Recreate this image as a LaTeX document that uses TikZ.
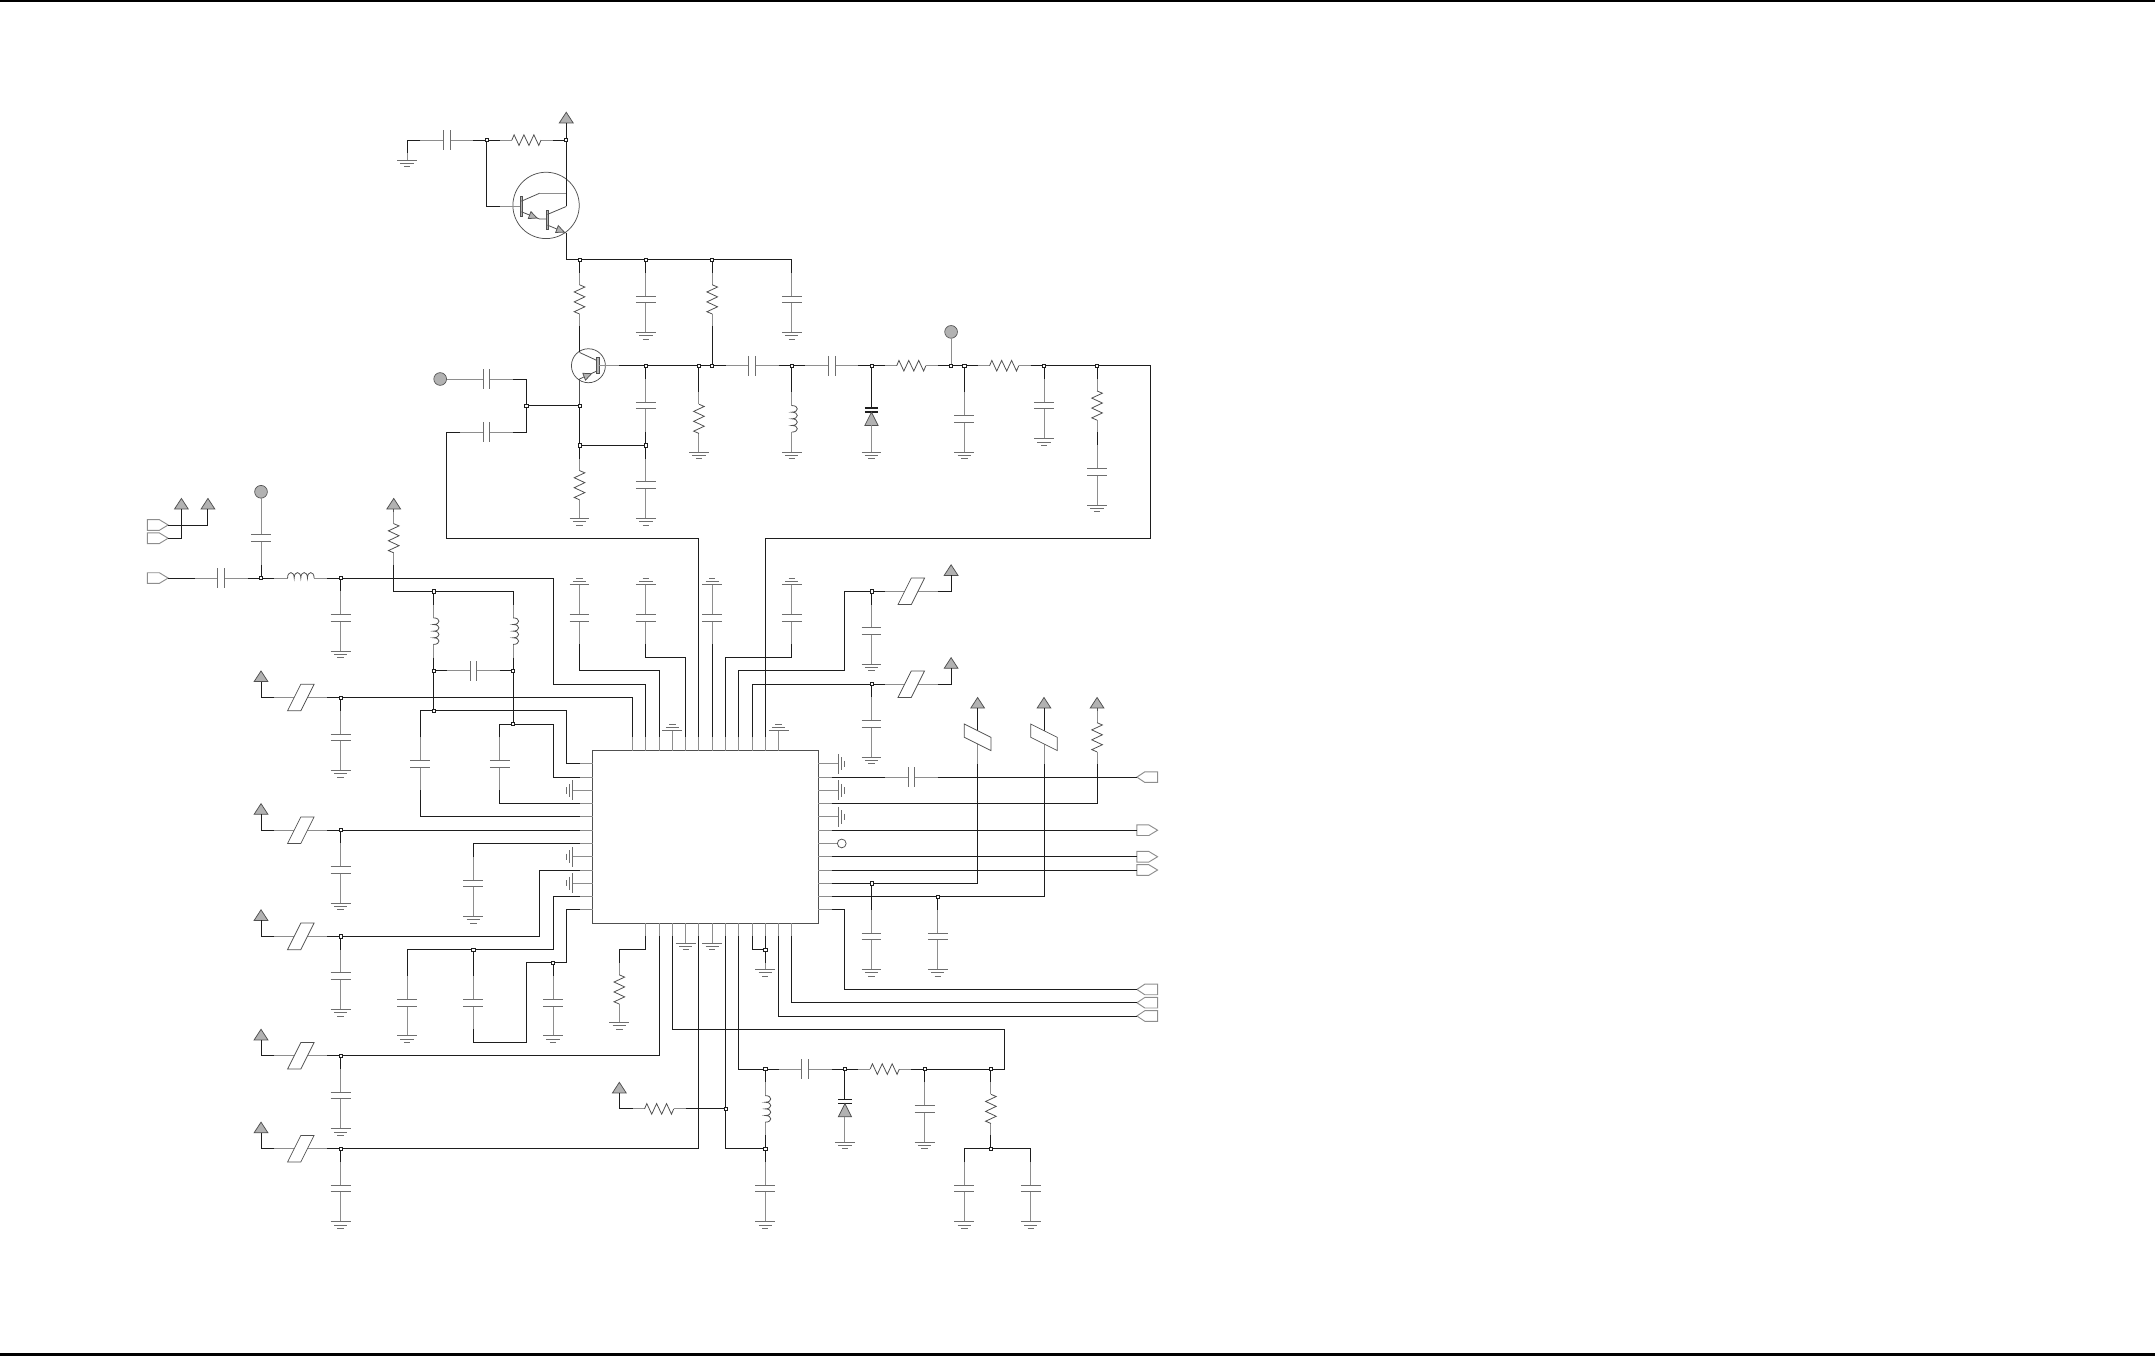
\documentclass[tikz,border=0pt]{standalone}
\pgfdeclarelayer{front}
\pgfsetlayers{main,front}
\definecolor{wirec}{HTML}{1E1E1E}
\definecolor{leadc}{HTML}{8E8E8E}
\definecolor{darkc}{HTML}{505050}
\definecolor{platec}{HTML}{6E6E6E}
\definecolor{fillc}{HTML}{B2B2B2}
\tikzset{
 wire/.style={draw=wirec,line width=1pt,line join=miter},
 comp/.style={draw=leadc,line width=1pt},
 zig/.style={draw=darkc,line width=.85pt,line join=miter},
 plate/.style={draw=platec,line width=1pt},
 junc/.style={rectangle,draw=wirec,fill=white,line width=.8pt,minimum size=3.4pt,inner sep=0pt},
 supply/.style={draw=darkc,fill=fillc,line width=.8pt,line join=miter},
 bulb/.style={circle,draw=darkc,fill=fillc,line width=.7pt,minimum size=.48cm,inner sep=0pt},
 body/.style={rectangle,draw=darkc,fill=white,line width=1pt,minimum width=8.5cm,minimum height=6.5cm,inner sep=0pt},
 ring/.style={circle,draw=darkc,line width=.8pt,inner sep=0pt},
 conn/.style={draw=leadc,fill=white,line width=1pt,line join=miter},
 slant/.style={draw=darkc,fill=white,line width=.8pt,line join=miter},
 bar/.style={draw=darkc,fill=fillc,line width=.6pt},
}
\newcommand\J[3]{\begin{pgfonlayer}{front}\node[junc] (#1) at (#2,#3) {};\end{pgfonlayer}}
% grounds: bars at y (or x), lead of half a pitch ends at the named coordinate
\newcommand\gndD[3]{\coordinate (#1) at (#2,#3-.5);\draw[comp] (#1) -- (#2,#3);
 \draw[plate] (#2-.75,#3) -- (#2+.75,#3); \draw[plate] (#2-.5,#3+.25) -- (#2+.5,#3+.25); \draw[plate] (#2-.24,#3+.5) -- (#2+.24,#3+.5);}
\newcommand\gndU[3]{\coordinate (#1) at (#2,#3+.5);\draw[comp] (#1) -- (#2,#3);
 \draw[plate] (#2-.75,#3) -- (#2+.75,#3); \draw[plate] (#2-.5,#3-.25) -- (#2+.5,#3-.25); \draw[plate] (#2-.24,#3-.5) -- (#2+.24,#3-.5);}
\newcommand\gndR[3]{\coordinate (#1) at (#2-.5,#3);\draw[comp] (#1) -- (#2,#3);
 \draw[plate] (#2,#3-.75) -- (#2,#3+.75); \draw[plate] (#2+.25,#3-.5) -- (#2+.25,#3+.5); \draw[plate] (#2+.5,#3-.24) -- (#2+.5,#3+.24);}
\newcommand\gndL[3]{\coordinate (#1) at (#2+.5,#3);\draw[comp] (#1) -- (#2,#3);
 \draw[plate] (#2,#3-.75) -- (#2,#3+.75); \draw[plate] (#2-.25,#3-.5) -- (#2-.25,#3+.5); \draw[plate] (#2-.5,#3-.24) -- (#2-.5,#3+.24);}
% capacitors
\newcommand\capH[3]{\coordinate (#1a) at (#2-2,#3);\coordinate (#1b) at (#2+2,#3);
 \draw[comp] (#1a) -- (#2-.25,#3); \draw[comp] (#1b) -- (#2+.25,#3);
 \draw[plate] (#2-.25,#3-.75) -- (#2-.25,#3+.75); \draw[plate] (#2+.25,#3-.75) -- (#2+.25,#3+.75);}
\newcommand\capV[3]{\coordinate (#1a) at (#2,#3-2);\coordinate (#1b) at (#2,#3+2);
 \draw[comp] (#1a) -- (#2,#3-.25); \draw[comp] (#1b) -- (#2,#3+.25);
 \draw[plate] (#2-.75,#3-.25) -- (#2+.75,#3-.25); \draw[plate] (#2-.75,#3+.25) -- (#2+.75,#3+.25);}
\newcommand\capG[3]{\capV{#1}{#2}{#3}\gndD{#1g}{#2}{#3+2.5}}
\newcommand\capGU[3]{\capV{#1}{#2}{#3}\gndU{#1g}{#2}{#3-2.5}}
% resistors
\newcommand\resH[3]{\coordinate (#1a) at (#2-2,#3);\coordinate (#1b) at (#2+2,#3);
 \draw[comp] (#1a) -- (#2-1.1,#3); \draw[comp] (#1b) -- (#2+1.1,#3);
 \draw[zig,shift={(#2,#3)}] (-1.1,0)--(-.93,-.4)--(-.56,.4)--(-.19,-.4)--(.19,.4)--(.56,-.4)--(.93,.4)--(1.1,0);}
\newcommand\resV[3]{\coordinate (#1a) at (#2,#3-2);\coordinate (#1b) at (#2,#3+2);
 \draw[comp] (#1a) -- (#2,#3-1.1); \draw[comp] (#1b) -- (#2,#3+1.1);
 \draw[zig,shift={(#2,#3)}] (0,-1.1)--(.4,-.93)--(-.4,-.56)--(.4,-.19)--(-.4,.19)--(.4,.56)--(-.4,.93)--(0,1.1);}
% inductors
\newcommand\indH[3]{\coordinate (#1a) at (#2-2,#3);\coordinate (#1b) at (#2+2,#3);
 \draw[comp] (#1a) -- (#2-1,#3); \draw[comp] (#1b) -- (#2+1,#3);
 \draw[zig,shift={(#2,#3)}] (-1,0) .. controls (-1,-.55) and (-.5,-.55) .. (-.5,0) .. controls (-.5,-.55) and (0,-.55) .. (0,0) .. controls (0,-.55) and (.5,-.55) .. (.5,0) .. controls (.5,-.55) and (1,-.55) .. (1,0);}
\newcommand\indV[3]{\coordinate (#1a) at (#2,#3-2);\coordinate (#1b) at (#2,#3+2);
 \draw[comp] (#1a) -- (#2,#3-1); \draw[comp] (#1b) -- (#2,#3+1);
 \draw[zig,shift={(#2,#3)}] (0,-1) .. controls (.55,-1) and (.55,-.5) .. (0,-.5) .. controls (.55,-.5) and (.55,0) .. (0,0) .. controls (.55,0) and (.55,.5) .. (0,.5) .. controls (.55,.5) and (.55,1) .. (0,1);}
% supply triangle: apex y, named coordinate at the middle of its base
\newcommand\vcc[3]{\coordinate (#1) at (#2,#3+.8);\filldraw[supply] (#2,#3) -- (#2+.52,#3+.8) -- (#2-.52,#3+.8) -- cycle;}
% ferrite blocks
\newcommand\slantH[3]{\coordinate (#1a) at (#2-2,#3);\coordinate (#1b) at (#2+2,#3);
 \draw[comp] (#1a) -- (#1b);
 \begin{pgfonlayer}{front}\filldraw[slant,shift={(#2,#3)}] (-1,1) -- (0,1) -- (1,-1) -- (0,-1) -- cycle;\end{pgfonlayer}}
\newcommand\slantV[3]{\coordinate (#1a) at (#2,#3-1);\coordinate (#1b) at (#2,#3+2);
 \draw[comp] (#2,#3) -- (#1b); \draw[wire] (#1a) -- (#2,#3);
 \begin{pgfonlayer}{front}\filldraw[slant,shift={(#2,#3)}] (-1,-1) -- (1,0) -- (1,1) -- (-1,0) -- cycle;\end{pgfonlayer}}
% port arrows
\newcommand\conR[3]{\coordinate (#1) at (#2,#3);\coordinate (#1t) at (#2+1.56,#3);
 \filldraw[conn] (#2,#3-.4) -- (#2+.9,#3-.4) -- (#1t) -- (#2+.9,#3+.4) -- (#2,#3+.4) -- cycle;}
\newcommand\conL[3]{\coordinate (#1) at (#2,#3);
 \filldraw[conn] (#1) -- (#2+.6,#3-.4) -- (#2+1.56,#3-.4) -- (#2+1.56,#3+.4) -- (#2+.6,#3+.4) -- cycle;}
% diode: bars at y, y+.3, triangle under them, lead down to coordinate
\newcommand\diode[3]{\coordinate (#1a) at (#2,#3);\coordinate (#1b) at (#2,#3+1.3);
 \draw[wirec,line width=1.6pt] (#2-.5,#3) -- (#2+.5,#3);\draw[wirec,line width=1.6pt] (#2-.5,#3+.3) -- (#2+.5,#3+.3);
 \filldraw[supply] (#2,#3+.3) -- (#2+.5,#3+1.3) -- (#2-.5,#3+1.3) -- cycle;}
\begin{document}
\begin{tikzpicture}[x=.5cm,y=-.5cm]
\useasboundingbox (-44.67,-56.56) rectangle (117.72,45.62);
\fill[black] (-44.67,-56.56) rectangle (117.72,-56.41);
\fill[black] (-44.67,45.37) rectangle (117.72,45.62);
% chip and its pins
\node[body] (U1) at (8.5,6.5) {};
\foreach \n in {3,...,14}{\coordinate (pt\n) at (\n,-1);\draw[comp] (\n,0) -- (pt\n);}
\foreach \n in {4,...,15}{\coordinate (pb\n) at (\n,14);\draw[comp] (\n,13) -- (pb\n);}
\foreach \n in {1,...,12}{\coordinate (pl\n) at (-1,\n);\coordinate (pr\n) at (18,\n);
 \draw[comp] (0,\n) -- (pl\n);\draw[comp] (17,\n) -- (pr\n);}
\gndU{gT6}{6}{-1.5}\gndU{gT14}{14}{-1.5}
\gndR{gR1}{18.5}{1}\gndR{gR3}{18.5}{3}\gndR{gR5}{18.5}{5}
\gndL{gL3}{-1.5}{3}\gndL{gL8}{-1.5}{8}\gndL{gL10}{-1.5}{10}
\gndD{gB7}{7}{14.5}\gndD{gB9}{9}{14.5}
\node[ring,minimum size=.33cm] (O1) at (18.76,7) {};
\draw[comp] (pr7) -- (O1);
% top: Darlington stage
\vcc{pA}{-2}{-48.1}
\J{jA}{-2}{-46}\J{jB}{-8}{-46}
\capH{C1}{-11}{-46}\resH{R1}{-5}{-46}
\gndD{gC1}{-14}{-44.5}
\draw[wire] (C1a) -- (-14,-46) -- (gC1);
\draw[wire] (C1b) -- (jB);\draw[wire] (jB) -- (R1a);
\draw[wire] (R1b) -- (jA);
\draw[wire] (pA) -- (jA);
\node[ring,minimum size=2.5cm] (Q1) at (-3.52,-41.08) {};
\draw[wire] (jB) -- (-8,-41) -- (-7,-41);
\draw[comp] (-7,-41) -- (-5.38,-41);
\filldraw[bar] (-5.48,-41.75) rectangle (-5.28,-40.25);
\draw[zig] (-5.38,-41.4) -- (-4,-42);
\draw[comp] (-4,-42) -- (-2,-42);
\draw[zig] (-5.38,-40.6) -- (-4,-40.05) -- (-3.42,-40.05);
\filldraw[bar] (-3.52,-40.75) rectangle (-3.32,-39.25);
\draw[zig] (-3.42,-40.4) -- (-2,-41);
\draw[wire] (jA) -- (-2,-41);
\draw[zig] (-3.42,-39.6) -- (-2,-39);
\filldraw[supply] (-4.2,-40.13) -- (-4.66,-40.61) -- (-4.86,-40.09) -- cycle;
\filldraw[supply] (-2.15,-39.07) -- (-2.6,-39.56) -- (-2.8,-39.04) -- cycle;
% collector bus
\J{jC}{-1}{-37}\J{jD}{4}{-37}\J{jE}{9}{-37}
\resV{R2}{-1}{-34}\capG{C2}{4}{-34}\resV{R3}{9}{-34}\capG{C3}{15}{-34}
\draw[wire] (-2,-39) -- (-2,-37) -- (jC);
\draw[wire] (jC) -- (jD);\draw[wire] (jD) -- (jE);
\draw[wire] (jE) -- (15,-37) -- (C3a);
\draw[wire] (jC) -- (R2a);\draw[wire] (jD) -- (C2a);\draw[wire] (jE) -- (R3a);
% second transistor
\node[ring,minimum size=1.28cm] (Q2) at (-.33,-29) {};
\filldraw[bar] (.26,-29.6) rectangle (.5,-28.4);
\draw[wire] (R2b) -- (-1,-30);
\draw[zig] (-1,-30) -- (.3,-29.4);
\draw[zig] (.3,-28.6) -- (-1,-28);
\filldraw[supply] (-.1,-28.4) -- (-.55,-27.91) -- (-.75,-28.43) -- cycle;
\draw[comp] (.5,-29) -- (2,-29);
\J{jF}{-1}{-26}\J{jG}{-1}{-23}\J{jH}{-5}{-26}
\draw[zig] (-1,-28) -- (jF);
\draw[wire] (jF) -- (jG);\draw[wire] (jF) -- (jH);
\capH{C4}{-8}{-28}\capH{C5}{-8}{-24}
\node[bulb] (B1) at (-11.5,-28) {};
\draw[comp] (B1) -- (C4a);
\draw[wire] (C4b) -- (-5,-28) -- (jH);
\draw[wire] (C5b) -- (-5,-24) -- (jH);
\draw[wire] (C5a) -- (-11,-24) -- (-11,-16) -- (8,-16) -- (pt8);
\J{jI}{4}{-29}\J{jJ}{4}{-23}\J{jK}{8}{-29}\J{jL}{9}{-29}
\capV{C6}{4}{-26}\capG{C7}{4}{-20}
\resV{R4}{-1}{-20}\gndD{gR4}{-1}{-17.5}
\draw[wire] (jI) -- (C6a);\draw[wire] (C6b) -- (jJ);\draw[wire] (jJ) -- (C7a);
\draw[wire] (jG) -- (jJ);\draw[wire] (jG) -- (R4a);
\resV{R5}{8}{-25}\gndD{gR5b}{8}{-22.5}
\draw[wire] (jK) -- (R5a);\draw[wire] (R3b) -- (jL);
\draw[wire] (2,-29) -- (jI);\draw[wire] (jI) -- (jK);\draw[wire] (jK) -- (jL);
% filter chain
\capH{C8}{12}{-29}\capH{C9}{18}{-29}\resH{R6}{24}{-29}\resH{R7}{31}{-29}
\J{jM}{15}{-29}\J{jN}{21}{-29}\J{jO}{27}{-29}\J{jP}{28}{-29}\J{jQ}{34}{-29}\J{jR}{38}{-29}
\draw[wire] (jL) -- (C8a);\draw[wire] (C8b) -- (jM);\draw[wire] (jM) -- (C9a);\draw[wire] (C9b) -- (jN);
\draw[wire] (jN) -- (R6a);\draw[wire] (R6b) -- (jO);\draw[wire] (jO) -- (jP);\draw[wire] (jP) -- (R7a);\draw[wire] (R7b) -- (jQ);
\draw[wire] (jQ) -- (jR);
\indV{L1}{15}{-25}\gndD{gL1}{15}{-22.5}
\draw[wire] (jM) -- (L1a);
\diode{D1}{21}{-25.8}\gndD{gD1}{21}{-22.5}
\draw[wire] (jN) -- (D1a);\draw[comp] (D1b) -- (gD1);
\node[bulb] (B2) at (27,-31.55) {};
\draw[comp] (B2) -- (jO);
\capG{C10}{28}{-25}\capG{C11}{34}{-26}
\draw[wire] (jP) -- (C10a);\draw[wire] (jQ) -- (C11a);
\resV{R8}{38}{-26}\capG{C12}{38}{-21}
\draw[wire] (jR) -- (R8a);\draw[wire] (R8b) -- (C12a);
\draw[wire] (jR) -- (42,-29) -- (42,-16) -- (13,-16) -- (pt13);
% caps above the chip
\capGU{C13}{-1}{-10}\capGU{C14}{4}{-10}\capGU{C15}{9}{-10}\capGU{C16}{15}{-10}
\draw[wire] (C13b) -- (-1,-6) -- (5,-6) -- (pt5);
\draw[wire] (C14b) -- (4,-7) -- (7,-7) -- (pt7);
\draw[wire] (C15b) -- (pt9);
\draw[wire] (C16b) -- (15,-7) -- (10,-7) -- (pt10);
% upper right supplies
\J{jS}{21}{-12}\J{jT}{21}{-5}
\slantH{P1}{24}{-12}\slantH{P2}{24}{-5}
\vcc{pB}{27}{-14}\vcc{pC}{27}{-7}
\capG{C17}{21}{-9}\capG{C18}{21}{-2}
\draw[wire] (pt11) -- (11,-6) -- (19,-6) -- (19,-12) -- (jS);
\draw[wire] (jS) -- (P1a);\draw[wire] (P1b) -- (27,-12) -- (pB);\draw[wire] (jS) -- (C17a);
\draw[wire] (pt12) -- (12,-5) -- (jT);
\draw[wire] (jT) -- (P2a);\draw[wire] (P2b) -- (27,-5) -- (pC);\draw[wire] (jT) -- (C18a);
% right side
\capH{C19}{24}{2}
\conL{cR2}{41}{2}
\draw[wire] (pr2) -- (C19a);\draw[wire] (C19b) -- (cR2);
\resV{R9}{38}{-1}\vcc{pF}{38}{-4}
\draw[zig] (pF) -- (R9a);
\draw[wire] (pr4) -- (38,4) -- (R9b);
\conR{cR6}{41}{6}\conR{cR8}{41}{8}\conR{cR9}{41}{9}
\draw[wire] (pr6) -- (cR6);\draw[wire] (pr8) -- (cR8);\draw[wire] (pr9) -- (cR9);
\J{jU}{21}{10}\J{jV}{26}{11}
\slantV{P3}{29}{-1}\slantV{P4}{34}{-1}
\vcc{pD}{29}{-4}\vcc{pE}{34}{-4}
\draw[wire] (pD) -- (P3a);\draw[wire] (pE) -- (P4a);
\draw[wire] (pr10) -- (jU);\draw[wire] (jU) -- (29,10) -- (P3b);
\draw[wire] (pr11) -- (jV);\draw[wire] (jV) -- (34,11) -- (P4b);
\capG{C20}{21}{14}\capG{C21}{26}{14}
\draw[wire] (jU) -- (C20a);\draw[wire] (jV) -- (C21a);
\conL{cR12}{41}{18}\conL{cB15}{41}{19}\conL{cB14}{41}{20}
\draw[wire] (pr12) -- (19,12) -- (19,18) -- (cR12);
\draw[wire] (pb15) -- (15,19) -- (cB15);
\draw[wire] (pb14) -- (14,20) -- (cB14);
% below the chip
\J{jW}{13}{15}\gndD{gB13}{13}{16.5}
\draw[wire] (pb13) -- (jW);\draw[wire] (jW) -- (gB13);
\draw[wire] (pb12) -- (12,15) -- (jW);
\J{jX}{13}{24}\J{jY}{19}{24}\J{jZ}{25}{24}\J{jAA}{30}{24}\J{jAB}{13}{30}\J{jAC}{10}{27}\J{jAD}{30}{30}
\capH{C22}{16}{24}\resH{R10}{22}{24}
\draw[wire] (pb11) -- (11,24) -- (jX);\draw[wire] (jX) -- (C22a);\draw[wire] (C22b) -- (jY);
\draw[wire] (jY) -- (R10a);\draw[wire] (R10b) -- (jZ);\draw[wire] (jZ) -- (jAA);
\draw[wire] (jAA) -- (31,24) -- (31,21) -- (6,21) -- (pb6);
\indV{L2}{13}{27}\capG{C23}{13}{33}
\draw[wire] (jX) -- (L2a);\draw[wire] (L2b) -- (jAB);\draw[wire] (jAB) -- (C23a);
\draw[wire] (pb10) -- (jAC);\draw[wire] (jAC) -- (10,30) -- (jAB);
\resH{R11}{5}{27}\vcc{pG}{2}{25}
\draw[wire] (R11b) -- (jAC);\draw[wire] (R11a) -- (2,27) -- (pG);
\diode{D2}{19}{26.3}\gndD{gD2}{19}{29.5}
\draw[wire] (jY) -- (D2a);\draw[comp] (D2b) -- (gD2);
\capG{C24}{25}{27}
\draw[wire] (jZ) -- (C24a);
\resV{R12}{30}{27}
\draw[wire] (jAA) -- (R12a);\draw[wire] (R12b) -- (jAD);
\capG{C25}{28}{33}\capG{C26}{33}{33}
\draw[wire] (jAD) -- (28,30) -- (C25a);\draw[wire] (jAD) -- (33,30) -- (C26a);
\resV{R13}{2}{18}\gndD{gR13}{2}{20.5}
\draw[wire] (pb4) -- (4,15) -- (2,15) -- (R13a);
% left supply rows
\J{jAE}{-19}{23}\J{jAF}{-19}{30}\J{jAI}{-19}{6}\J{jAJ}{-19}{14}\J{jAS}{-19}{-4}
\slantH{P5}{-22}{23}\slantH{P6}{-22}{30}\slantH{P7}{-22}{6}\slantH{P8}{-22}{14}\slantH{P9}{-22}{-4}
\vcc{pJ}{-25}{21}\vcc{pK}{-25}{28}\vcc{pL}{-25}{4}\vcc{pM}{-25}{12}\vcc{pN}{-25}{-6}
\capG{C36}{-19}{26}\capG{C37}{-19}{33}\capG{C38}{-19}{9}\capG{C30}{-19}{17}\capG{C39}{-19}{-1}
\draw[wire] (pb5) -- (5,23) -- (jAE);\draw[wire] (jAE) -- (P5b);\draw[wire] (P5a) -- (-25,23) -- (pJ);\draw[wire] (jAE) -- (C36a);
\draw[wire] (pb8) -- (8,30) -- (jAF);\draw[wire] (jAF) -- (P6b);\draw[wire] (P6a) -- (-25,30) -- (pK);\draw[wire] (jAF) -- (C37a);
\draw[wire] (pl6) -- (jAI);\draw[wire] (jAI) -- (P7b);\draw[wire] (P7a) -- (-25,6) -- (pL);\draw[wire] (jAI) -- (C38a);
\draw[wire] (pl9) -- (-4,9) -- (-4,14) -- (jAJ);\draw[wire] (jAJ) -- (P8b);\draw[wire] (P8a) -- (-25,14) -- (pM);\draw[wire] (jAJ) -- (C30a);
\draw[wire] (jAS) -- (3,-4) -- (pt3);\draw[wire] (jAS) -- (P9b);\draw[wire] (P9a) -- (-25,-4) -- (pN);\draw[wire] (jAS) -- (C39a);
% left of the chip
\J{jAG}{-12}{-3}\J{jAH}{-6}{-2}
\draw[wire] (pl1) -- (-2,1) -- (-2,-3) -- (jAG);
\draw[wire] (pl2) -- (-3,2) -- (-3,-2) -- (jAH);
\capV{C27}{-7}{1}\capV{C28}{-13}{1}
\draw[wire] (C27a) -- (-7,-2) -- (jAH);\draw[wire] (C27b) -- (-7,4) -- (pl4);
\draw[wire] (C28a) -- (-13,-3) -- (jAG);\draw[wire] (C28b) -- (-13,5) -- (pl5);
\capG{C29}{-9}{10}
\draw[wire] (pl7) -- (-9,7) -- (C29a);
\J{jAK}{-9}{15}\J{jAL}{-3}{16}
\capG{C40}{-14}{19}\capV{C31}{-9}{19}\capG{C41}{-3}{19}
\draw[wire] (pl11) -- (-3,11) -- (-3,15) -- (jAK);
\draw[wire] (jAK) -- (-14,15) -- (C40a);
\draw[wire] (jAK) -- (C31a);
\draw[wire] (C31b) -- (-9,22) -- (-5,22) -- (-5,16) -- (jAL);
\draw[wire] (jAL) -- (-2,16) -- (-2,12) -- (pl12);
\draw[wire] (jAL) -- (C41a);
% upper left
\conR{cA}{-33.56}{-17}\conR{cB}{-33.56}{-16}\conR{cC}{-33.56}{-13}
\vcc{pH}{-29}{-19}\vcc{pI}{-31}{-19}
\draw[wire] (cAt) -- (-29,-17) -- (pH);
\draw[wire] (cBt) -- (-31,-16) -- (pI);
\J{jAM}{-25}{-13}\J{jAN}{-19}{-13}
\capH{C32}{-28}{-13}\indH{L3}{-22}{-13}
\draw[wire] (cCt) -- (C32a);\draw[wire] (C32b) -- (jAM);\draw[wire] (jAM) -- (L3a);\draw[wire] (L3b) -- (jAN);
\draw[wire] (jAN) -- (-3,-13) -- (-3,-5) -- (4,-5) -- (pt4);
\capV{C33}{-25}{-16}\node[bulb] (B3) at (-25,-19.5) {};
\draw[comp] (B3) -- (C33a);\draw[wire] (C33b) -- (jAM);
\capG{C34}{-19}{-10}\draw[wire] (jAN) -- (C34a);
\vcc{pO}{-15}{-19}\resV{R14}{-15}{-16}
\draw[zig] (pO) -- (R14a);
\J{jAO}{-12}{-12}\J{jAQ}{-12}{-6}\J{jAR}{-6}{-6}
\indV{L4}{-12}{-9}\indV{L5}{-6}{-9}\capH{C35}{-9}{-6}
\draw[wire] (R14b) -- (-15,-12) -- (jAO);\draw[wire] (jAO) -- (-6,-12) -- (L5a);\draw[wire] (jAO) -- (L4a);
\draw[wire] (L4b) -- (jAQ);\draw[wire] (L5b) -- (jAR);
\draw[wire] (jAQ) -- (jAG);\draw[wire] (jAR) -- (jAH);
\draw[wire] (jAQ) -- (C35a);\draw[wire] (C35b) -- (jAR);
\end{tikzpicture}
\end{document}
